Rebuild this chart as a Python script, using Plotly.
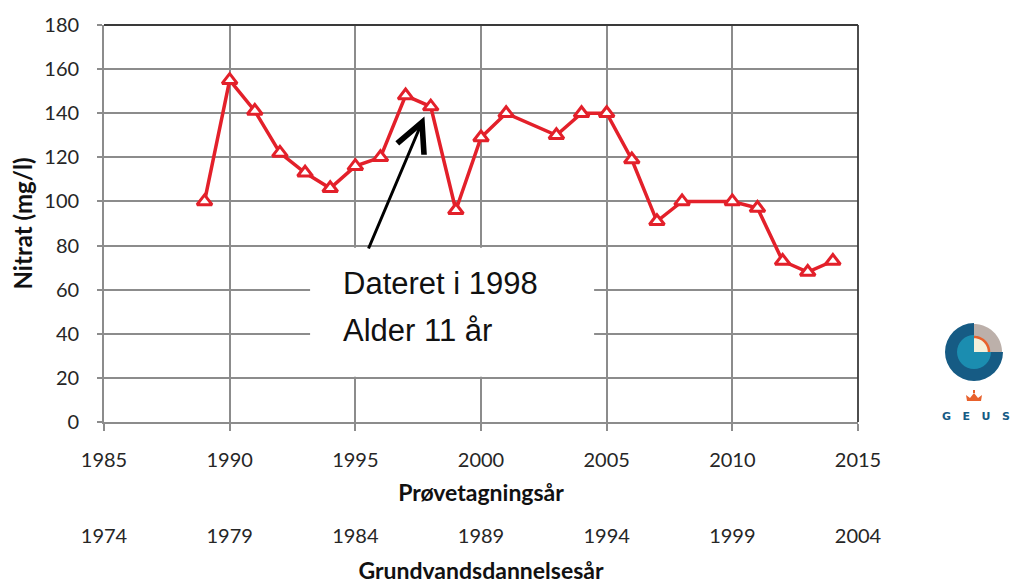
import plotly.graph_objects as go
import math

# ---- data ----
sample_years = [1989, 1990, 1991, 1992, 1993, 1994, 1995, 1996, 1997, 1998, 1999, 2000,
                2001, 2003, 2004, 2005, 2006, 2007, 2008, 2010, 2011, 2012, 2013, 2014]
nitrate = [100, 155, 141, 122, 113, 106, 116, 120, 148, 143, 96, 129,
           140, 130, 140, 140, 119, 91, 100, 100, 97, 73, 68, 73]

sample_ticks = [1985, 1990, 1995, 2000, 2005, 2010, 2015]
formation_ticks = ["1974", "1979", "1984", "1989", "1994", "1999", "2004"]
y_ticks = [0, 20, 40, 60, 80, 100, 120, 140, 160, 180]

annotation_lines = ["Dateret i 1998", "Alder 11 år"]

# ---- layout constants ----
W, H = 1013, 584
ML, MR, MT, MB = 104, 155, 25, 10
PW = W - ML - MR
PH = H - MT - MB
PLOT_BOTTOM = 422
ydom0 = (H - MB - PLOT_BOTTOM) / PH

RED = "#e3202a"
GRID = "#8c8c8c"
TICKFONT = dict(family="Lato", size=20, color="#262626")
XTITLEFONT = dict(family="Lato", size=23, color="#111111")
YTITLEFONT = dict(family="Lato", size=24, color="#111111")

fig = go.Figure()
fig.add_trace(go.Scatter(
    x=sample_years, y=nitrate, mode="lines+markers",
    line=dict(color=RED, width=3.5),
    marker=dict(symbol="triangle-up", size=13, color="white",
                line=dict(color=RED, width=3)),
    showlegend=False, hoverinfo="x+y"))

fig.update_layout(
    width=W, height=H,
    margin=dict(l=ML, r=MR, t=MT, b=MB, autoexpand=False),
    paper_bgcolor="white", plot_bgcolor="white",
    xaxis=dict(range=[1985, 2015], tickvals=sample_ticks,
               ticktext=[str(t) for t in sample_ticks],
               showgrid=True, gridcolor=GRID, gridwidth=1.8,
               showline=True, linecolor=GRID, linewidth=1.8,
               ticks="outside", ticklen=7, tickcolor=GRID, tickwidth=1.5,
               tickfont=TICKFONT, ticklabelstandoff=12, zeroline=False,
               anchor="y", automargin=False,
               title=dict(text="<b>Prøvetagningsår</b>", font=XTITLEFONT, standoff=15)),
    xaxis2=dict(range=[1985, 2015], overlaying="x", anchor="free", position=0.095,
                tickvals=sample_ticks, ticktext=formation_ticks,
                showgrid=False, showline=False, ticks="", zeroline=False,
                tickfont=TICKFONT, automargin=False, side="bottom",
                title=dict(text="<b>Grundvandsdannelsesår</b>", font=XTITLEFONT, standoff=23)),
    yaxis=dict(range=[0, 180], tickvals=y_ticks, domain=[ydom0, 1],
               showgrid=True, gridcolor=GRID, gridwidth=1.8,
               showline=True, linecolor=GRID, linewidth=1.8,
               ticks="outside", ticklen=5, tickcolor=GRID, tickwidth=1.5,
               tickfont=TICKFONT, ticklabelstandoff=14, zeroline=False,
               automargin=False,
               title=dict(text="<b>Nitrat (mg/l)</b>", font=YTITLEFONT, standoff=5)),
)

# dummy trace so the second axis is rendered
fig.add_trace(go.Scatter(x=[None], y=[None], xaxis="x2", yaxis="y",
                         showlegend=False, hoverinfo="skip"))

# plot border top / right (dark)
fig.add_shape(type="line", xref="paper", yref="paper", x0=0, x1=1, y0=1, y1=1,
              line=dict(color="#3a3a3a", width=1.8))
fig.add_shape(type="line", xref="paper", yref="paper", x0=1, x1=1, y0=ydom0, y1=1,
              line=dict(color="#3a3a3a", width=1.8))

# white text box
fig.add_shape(type="rect", xref="x", yref="y", x0=1993.2, x1=2004.5, y0=20.5, y1=79,
              fillcolor="white", line=dict(width=0), layer="above")

# arrow
fig.add_annotation(x=1997.75, y=138.5, ax=1995.5, ay=78, xref="x", yref="y",
                   axref="x", ayref="y", text="", showarrow=True,
                   arrowhead=5, arrowsize=1.9, arrowwidth=3, arrowcolor="black")

# annotation text
for txt, yv in zip(annotation_lines, [63.0, 41.7]):
    fig.add_annotation(x=1994.41, y=yv, xref="x", yref="y", text=txt, showarrow=False,
                       xanchor="left", yanchor="middle",
                       font=dict(family="Liberation Sans", size=31, color="#111111"))

# ---- GEUS logo ----
def px_anchor(px, py):
    return (px - ML) / PW, (H - MB - py) / PH

cx, cy = px_anchor(974, 352)

def wedge(r, a0, a1, n=24):
    pts = ["M0,0"]
    for i in range(n + 1):
        a = math.radians(a0 + (a1 - a0) * i / n)
        pts.append(f"L{r*math.cos(a):.2f},{r*math.sin(a):.2f}")
    return " ".join(pts) + " Z"

def arc(r, a0, a1, n=24):
    pts = []
    for i in range(n + 1):
        a = math.radians(a0 + (a1 - a0) * i / n)
        pts.append(("M" if i == 0 else "L") + f"{r*math.cos(a):.2f},{r*math.sin(a):.2f}")
    return " ".join(pts)

def logo_shape(path, fill=None, line=None):
    d = dict(type="path", xref="paper", yref="paper", xsizemode="pixel", ysizemode="pixel",
             xanchor=cx, yanchor=cy, path=path, layer="above")
    d["fillcolor"] = fill if fill else "rgba(0,0,0,0)"
    d["line"] = line if line else dict(width=0)
    fig.add_shape(**d)

logo_shape(wedge(29, 90, 360), fill="#165b84")
logo_shape(wedge(28, 0, 90), fill="#bcb0aa")
logo_shape(wedge(17, 90, 360), fill="#1b8db0")
logo_shape(wedge(15, 0, 90), fill="#f4f0da")
logo_shape(arc(15, 0, 90), line=dict(color="#e8612c", width=2.5))

crx, cry = px_anchor(974, 398)
fig.add_shape(type="path", xref="paper", yref="paper", xsizemode="pixel", ysizemode="pixel",
              xanchor=crx, yanchor=cry,
              path="M-7,-3 L-8,3 L-4,0 L0,5 L4,0 L8,3 L7,-3 Z M-1,5 L1,5 L1,8 L-1,8 Z",
              fillcolor="#e8612c", line=dict(width=0))

gx, gy = px_anchor(976, 416)
fig.add_annotation(x=gx, y=gy, xref="paper", yref="paper", showarrow=False,
                   text="<b>G\u00a0\u00a0\u00a0E\u00a0\u00a0\u00a0U\u00a0\u00a0\u00a0S</b>",
                   font=dict(family="DejaVu Sans", size=11, color="#165b84"),
                   xanchor="center", yanchor="middle")

fig.write_html("out.html", config={"displayModeBar": False},
               post_script="document.body.style.margin='0px';")
